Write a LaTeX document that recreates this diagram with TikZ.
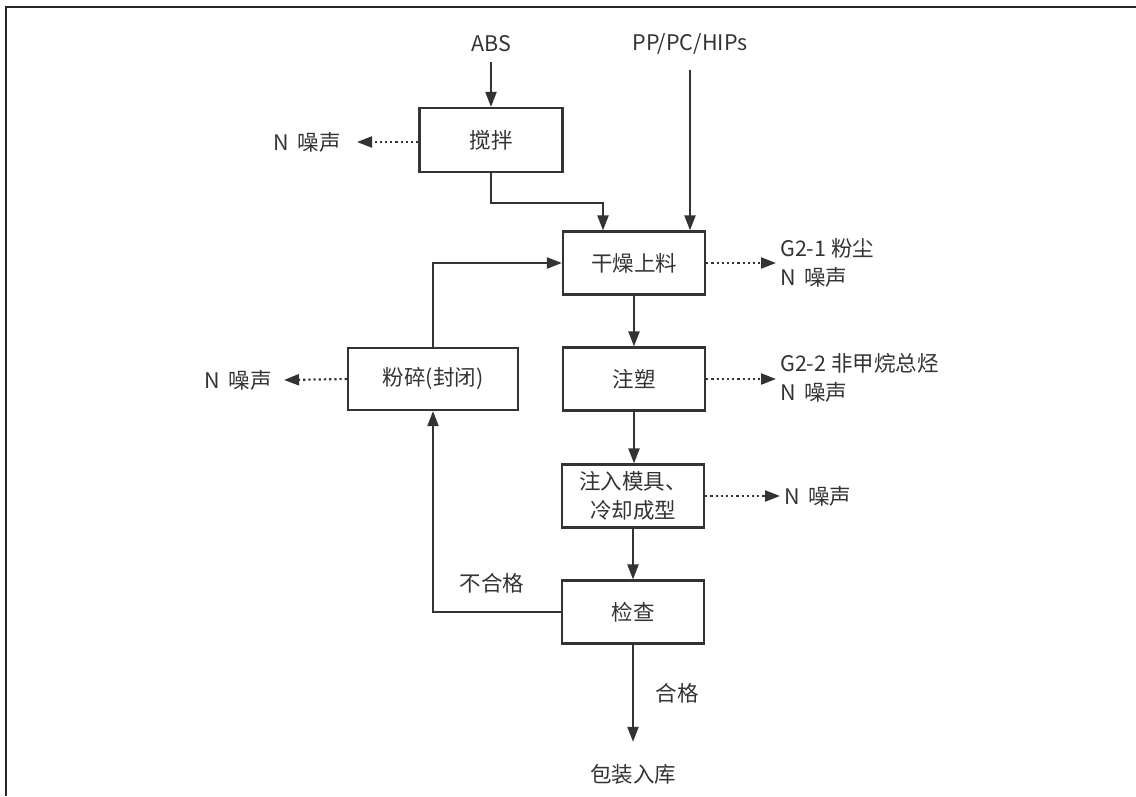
\documentclass[tikz,border=0pt]{standalone}
\usepackage{fontspec}
\setmainfont{Noto Sans CJK SC}
\usetikzlibrary{arrows.meta}
\definecolor{ink}{HTML}{333333}
\begin{document}
\begin{tikzpicture}[x=1pt,y=-1pt,
  txt/.style={font=\fontsize{21.5}{29}\selectfont, text=ink},
  box/.style={txt, draw=ink, line width=2.2pt, minimum width=142pt, minimum height=63pt, inner sep=0pt, align=center},
  lbl/.style={txt, inner sep=4pt, align=left},
  arr/.style={draw=ink, line width=2.2pt, -{Triangle[length=15pt,width=11pt]}},
  dotarr/.style={arr, dash pattern=on 2.2pt off 3pt},
  line/.style={draw=ink, line width=2.2pt}
]
\useasboundingbox (0,0) rectangle (1136,796);
\draw[line width=2.2pt, black!85] (6,796) -- (6,7) -- (1136,7);

\node[lbl, minimum height=36pt, inner sep=0pt] (abs) at (491,44) {ABS};
\node[lbl, minimum height=52pt, inner sep=0pt] (pp) at (690,44) {PP/PC/HIPs};

\node[box, minimum width=143pt, minimum height=64pt] (stir) at (491,140) {搅拌};
\node[box] (dry) at (634,263) {干燥上料};
\node[box] (inj) at (634,379) {注塑};
\node[box, align=center] (mold) at (633,496) {注入模具、\\冷却成型};
\node[box] (check) at (633,612) {检查};
\node[box, minimum width=170pt, minimum height=62pt] (crush) at (433,379) {粉碎(封闭)};

\node[lbl, minimum height=64pt, inner sep=0pt] (pack) at (633,774) {包装入库};

\node[lbl, anchor=east, inner xsep=16pt] (n1) at (357,142) {N\, 噪声};
\node[lbl, anchor=east, inner xsep=12pt] (n2) at (284,380) {N\, 噪声};
\node[lbl, anchor=west] (g1) at (776,263) {G2-1 粉尘\\N\, 噪声};
\node[lbl, anchor=west] (g2) at (776,378) {G2-2 非甲烷总烃\\N\, 噪声};
\node[lbl, anchor=west] (n3) at (780,496) {N\, 噪声};

\node[txt] (bad) at (492,583) {不合格};
\node[txt] (good) at (677,693) {合格};

\draw[arr] (abs.south) -- (stir.north);
\draw[arr] (stir.south) -- ++(0,30) -| ([xshift=-31pt]dry.north);
\draw[arr] (pp.south) -- (pp.south |- dry.north);
\draw[arr] (dry.south) -- (inj.north);
\draw[arr] (inj.south) -- (inj.south |- mold.north);
\draw[arr] (mold.south) -- (check.north);
\draw[arr] (check.west) -| (crush.south);
\draw[arr] (crush.north) |- (dry.west);
\draw[arr] (check.south) -- (pack.north);

\draw[dotarr] (stir.west |- n1.east) -- (n1.east);
\draw[dotarr] (crush.west) -- (n2.east);
\draw[dotarr] (dry.east) -- (dry.east -| g1.west);
\draw[dotarr] (inj.east) -- (inj.east -| g2.west);
\draw[dotarr] (mold.east) -- (n3.west);
\end{tikzpicture}
\end{document}
